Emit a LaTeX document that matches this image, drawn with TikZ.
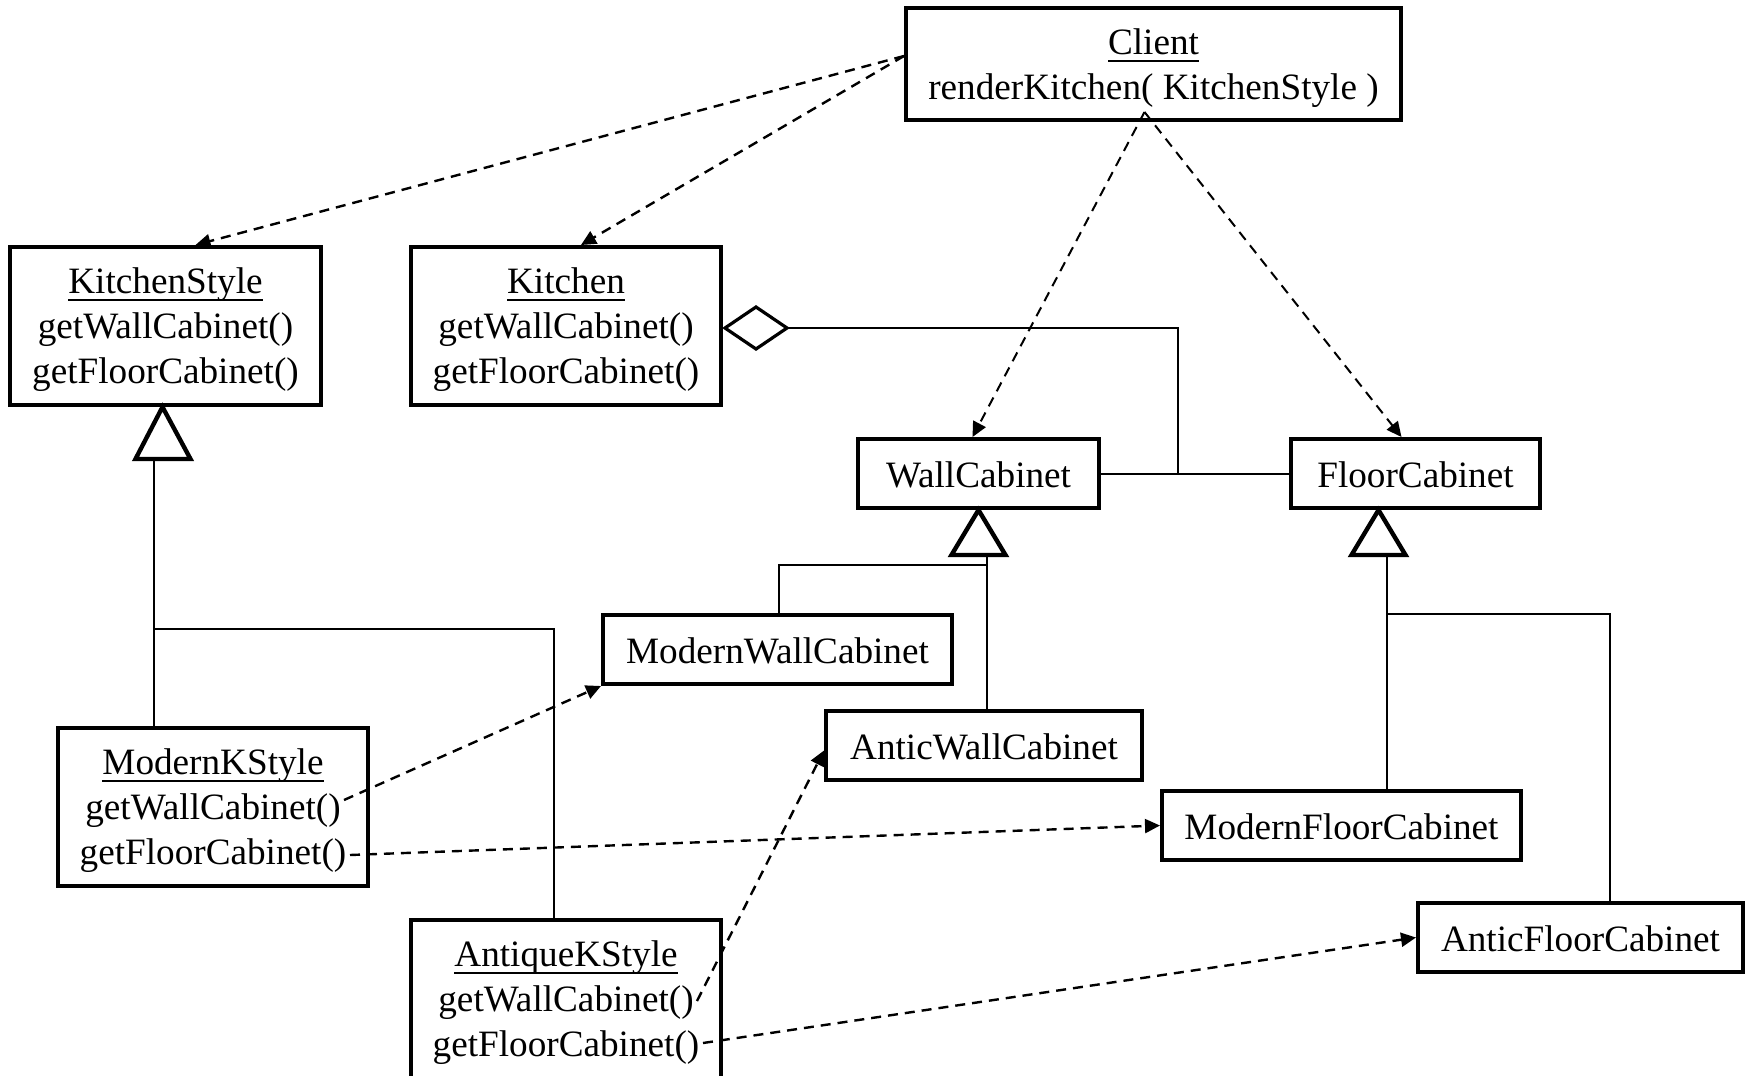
\documentclass[tikz,border=0pt]{standalone}
\usepackage{fontspec}
\setmainfont{Liberation Serif}
\usetikzlibrary{arrows.meta,calc}
% underline set at a fixed depth below the baseline
\newcommand{\uln}[1]{\setbox0\hbox{#1}\rlap{\rule[-3.6pt]{\wd0}{0.9pt}}\box0}
\begin{document}
\begin{tikzpicture}[x=0.5pt,y=-0.5pt,
  cls/.style={draw,line width=2pt,inner sep=0pt,align=center,
    font=\fontsize{18.6}{22.5}\selectfont},
  scls/.style={cls,execute at begin node={\rule{0pt}{14.6pt}}},
  mcls/.style={cls,text depth=-1.6pt},
  dep/.style={dash pattern=on 5pt off 3.5pt,line width=1.2pt,
    -{Triangle[length=7.5pt,width=7pt]}},
  lnk/.style={line width=1pt},
  gen/.style={line width=2.2pt,fill=white,line join=miter},
  agg/.style={line width=1.6pt,fill=white}]
\useasboundingbox (0,0) rectangle (1746,1076);

% classes
\node[cls,text depth=-0.4pt,minimum width=247.5pt,minimum height=56pt] (client) at (1153.5,64)
  {\uln{Client}\\renderKitchen( KitchenStyle )};
\node[mcls,minimum width=155.5pt,minimum height=79pt] (kstyle) at (165.5,326)
  {\uln{KitchenStyle}\\getWallCabinet()\\getFloorCabinet()};
\node[mcls,minimum width=155pt,minimum height=79pt] (kitchen) at (566,326)
  {\uln{Kitchen}\\getWallCabinet()\\getFloorCabinet()};
\node[scls,minimum width=120.5pt,minimum height=34.5pt] (wall) at (978.5,473.5)
  {WallCabinet};
\node[scls,minimum width=124.5pt,minimum height=34.5pt] (floor) at (1415.5,473.5)
  {FloorCabinet};
\node[scls,minimum width=174.5pt,minimum height=34.5pt] (mwall) at (777.5,649.5)
  {ModernWallCabinet};
\node[scls,minimum width=158pt,minimum height=34.5pt] (awall) at (984,745.5)
  {AnticWallCabinet};
\node[scls,minimum width=179.5pt,minimum height=34.5pt] (mfloor) at (1341.5,825.5)
  {ModernFloorCabinet};
\node[scls,minimum width=162.5pt,minimum height=34.5pt] (afloor) at (1580.5,937.5)
  {AnticFloorCabinet};
\node[mcls,minimum width=155pt,minimum height=79pt] (mks) at (213,807)
  {\uln{ModernKStyle}\\getWallCabinet()\\getFloorCabinet()};
\node[mcls,minimum width=155pt,minimum height=79pt] (aks) at (566,999)
  {\uln{AntiqueKStyle}\\getWallCabinet()\\getFloorCabinet()};

% generalization trees
\draw[lnk] ($(kstyle.south)+(-11.5,52)$) -- ($(mks.north)+(-59,0)$);
\draw[lnk] ($(mks.north)+(-59,-97)$) -| ($(aks.north)+(-12,0)$);
\draw[gen] ($(kstyle.south)+(-3,0)$) -- ++(-27,52) -- ++(55,0) -- cycle;

\draw[lnk] ($(wall.south)+(8.5,45)$) -- ($(awall.north)+(3,0)$);
\draw[lnk] ($(mwall.north)+(1.5,0)$) |- ($(awall.north)+(3,-144)$);
\draw[gen] (wall.south) -- ++(-27,45) -- ++(54,0) -- cycle;

\draw[lnk] ($(floor.south)+(-28.5,45)$) -- ($(mfloor.north)+(45.5,0)$);
\draw[lnk] ($(mfloor.north)+(45.5,-175)$) -| ($(afloor.north)+(29.5,0)$);
\draw[gen] ($(floor.south)+(-37,0)$) -- ++(-27,45) -- ++(54,0) -- cycle;

% aggregation of the cabinets in the kitchen
\coordinate (j) at ($(wall.east)!0.41!(floor.west)$);
\draw[lnk] (wall.east) -- (floor.west);
\draw[lnk] ($(kitchen.east)+(64,2)$) -| (j);
\draw[agg] ($(kitchen.east)+(2,2)$) -- ++(31,-21) -- ++(31,21) -- ++(-31,21) -- cycle;

% dependencies of the client
\coordinate (cw) at ($(client.west)+(0,-8)$);
\coordinate (cs) at ($(client.south)+(-9,-10)$);
\draw[dep] (cw) -- ($(kstyle.north)+(30,0)$);
\draw[dep] (cw) -- ($(kitchen.north)+(15,0)$);
\draw[dep,line width=1pt] (cs) -- ($(wall.north)+(-6,0)$);
\draw[dep,line width=1pt] (cs) -- ($(floor.north)+(-14,0)$);

% factory methods creating the concrete cabinets
\draw[dep] ($(mks.center)+(131,-7)$) -- (mwall.south west);
\draw[dep] ($(mks.center)+(137,48)$) -- (mfloor.west);
\draw[dep] ($(aks.center)+(131,2)$) -- ($(awall.west)+(0,5)$);
\draw[dep] ($(aks.center)+(137,44)$) -- (afloor.west);
\end{tikzpicture}
\end{document}
